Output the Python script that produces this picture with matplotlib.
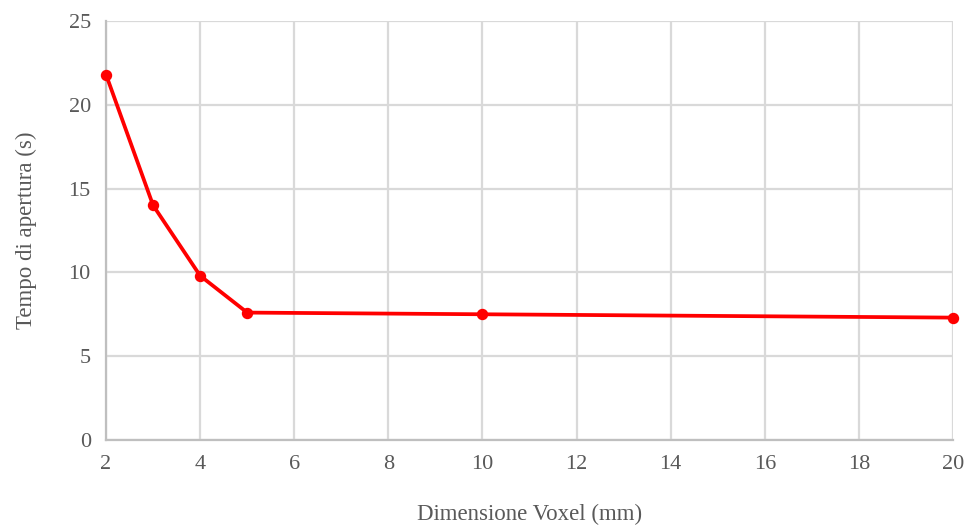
import matplotlib
matplotlib.use("Agg")
import matplotlib.pyplot as plt

# Voxel size (mm) vs. opening time (s)
voxel_mm = [2, 3, 4, 5, 10, 20]
tempo_s = [21.8, 14.0, 9.8, 7.6, 7.5, 7.3]
x_ticks = [2, 4, 6, 8, 10, 12, 14, 16, 18, 20]
y_ticks = [0, 5, 10, 15, 20, 25]

plt.rcParams['font.family'] = ['Liberation Serif', 'DejaVu Serif']
text_col = '#595959'
grid_col = '#d9d9d9'

fig = plt.figure(figsize=(9.64, 5.25), dpi=100)
ax = fig.add_axes([0.110, 0.162, 0.8786, 0.798])

ax.plot(voxel_mm, tempo_s, color='#ff0000', lw=2.7, marker='o', ms=7.2,
        solid_joinstyle='round', zorder=3, clip_on=False)

ax.set_xlim(2, 20)
ax.set_ylim(0, 25)
ax.set_xticks(x_ticks)
ax.set_yticks(y_ticks)
ax.grid(True, color=grid_col, lw=1.6)
ax.set_axisbelow(True)
for side in ['top', 'right']:
    ax.spines[side].set_visible(False)
for side in ['left', 'bottom']:
    ax.spines[side].set_color('#bfbfbf')
    ax.spines[side].set_linewidth(1.6)
ax.tick_params(length=0, labelsize=16, colors=text_col, pad=11)

ax.set_xlabel('Dimensione Voxel (mm)', fontsize=16.5, color=text_col, labelpad=21)
ax.set_ylabel('Tempo di apertura (s)', fontsize=16.5, color=text_col, labelpad=23)

fig.savefig('out.png', dpi=100)
